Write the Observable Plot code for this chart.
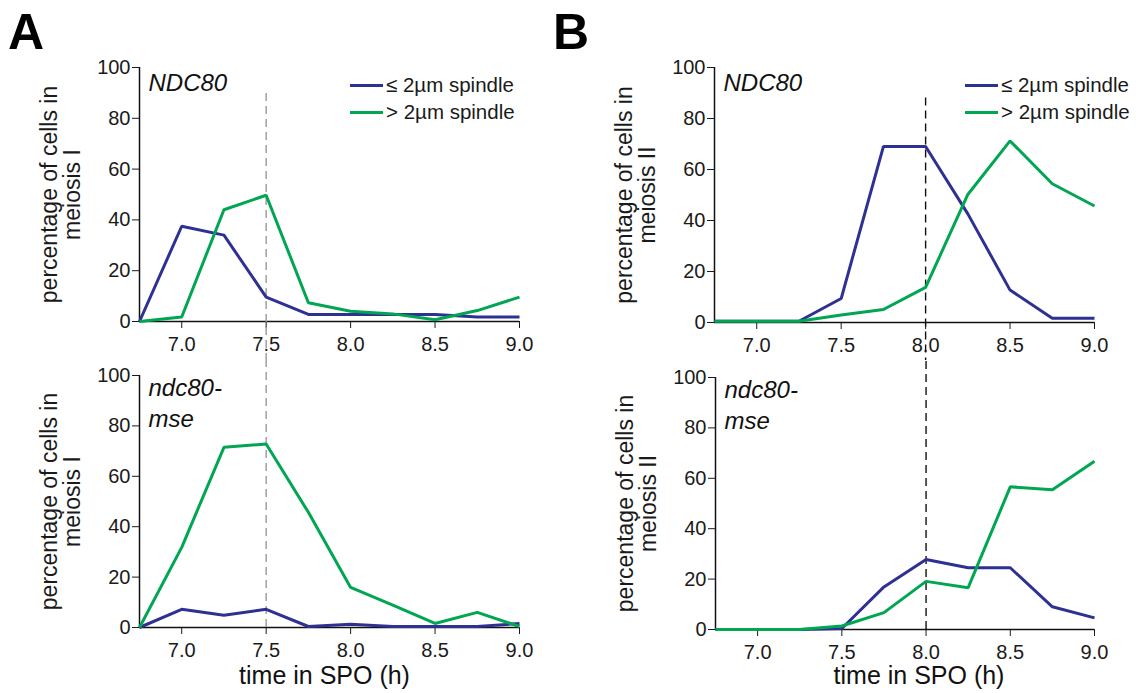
<!DOCTYPE html>
<html><head><meta charset="utf-8">
<script src="https://cdn.jsdelivr.net/npm/d3@7"></script>
<script src="https://cdn.jsdelivr.net/npm/@observablehq/plot@0.6"></script>
<style>
body{margin:0;background:#fff;font-family:"Liberation Sans",Arial,Helvetica,sans-serif;}
#fig{position:relative;width:1136px;height:693px;overflow:hidden;background:#fff;}
.panel{position:absolute;}
.letter{position:absolute;font-weight:bold;font-size:50px;line-height:1;color:#000;}
.legend{position:absolute;font-size:20.5px;color:#1a1a1a;}
.legend .item{position:absolute;white-space:nowrap;display:flex;align-items:center;height:24px;}
.legend .sw{display:inline-block;width:33px;height:3px;margin-right:3px;}
</style></head><body><div id="fig"></div>
<script>
// ---- data ----
const times = [6.75, 7.0, 7.25, 7.5, 7.75, 8.0, 8.25, 8.5, 8.75, 9.0];
const seriesNames = ["≤ 2µm spindle", "> 2µm spindle"];
const seriesColors = ["#2e3192", "#00a651"];
const xTicks = [7.0, 7.5, 8.0, 8.5, 9.0];
const yTicks = [0, 20, 40, 60, 80, 100];
const timeDomain = [6.75, 9.0];

// Panel A (meiosis I)
const aTopShort = [0, 37.5, 34, 9.6, 2.8, 2.8, 2.8, 2.8, 1.8, 1.8];
const aTopLong  = [0, 1.8, 44, 49.7, 7.4, 4, 3, 0.7, 4.3, 9.6];
const aBotShort = [0, 7.2, 4.9, 7.2, 0.4, 1.3, 0.4, 0.4, 0.4, 1.6];
const aBotLong  = [0, 31.8, 71.5, 72.8, 45.7, 15.9, 8.9, 1.6, 6, 0.4];
// Panel B (meiosis II)
const bTopShort = [0.5, 0.5, 0.5, 9.4, 69, 69, 42.6, 12.7, 1.7, 1.7];
const bTopLong  = [0.5, 0.5, 0.5, 2.9, 5.1, 13.8, 50.2, 71.2, 54.4, 45.7];
const bBotShort = [0, 0, 0, 0.4, 16.9, 27.8, 24.5, 24.5, 9, 4.6];
const bBotLong  = [0, 0, 0, 1.4, 6.7, 19.1, 16.6, 56.6, 55.5, 66.8];

const markerA = 7.5;
const markerB = 8.0;
const titleTop = "NDC80";
const titleBot = "ndc80-\nmse";
const yLabelA = "percentage of cells in\nmeiosis I";
const yLabelB = "percentage of cells in\nmeiosis II";
const xLabel = "time in SPO (h)";

// ---- drawing ----
const fig = document.getElementById("fig");

function rows(short, long) {
  return [
    ...times.map((t, i) => ({t, v: short[i], s: seriesNames[0]})),
    ...times.map((t, i) => ({t, v: long[i], s: seriesNames[1]}))
  ];
}

function panel(o) {
  const marks = [
    Plot.ruleY([0], {stroke: "#111", strokeWidth: 1.5}),
    Plot.ruleX([timeDomain[0]], {y1: 0, y2: 100, stroke: "#111", strokeWidth: 1.5}),
    Plot.ruleX([o.marker], {y1: o.ext[0], y2: o.ext[1], stroke: o.markerColor, strokeWidth: 1.4, strokeDasharray: "8,5"}),
    Plot.line(rows(o.short, o.long), {x: "t", y: "v", stroke: "s", z: "s", strokeWidth: 3, strokeLinejoin: "miter", strokeLinecap: "butt"}),
    Plot.text([o.title], {frameAnchor: "top-left", textAnchor: "start", lineAnchor: "top", dx: 9, dy: o.titleDy, fontSize: 24, fontStyle: "italic", fill: "#111", lineHeight: 1.3}),
    Plot.text([o.ylab], {frameAnchor: "left", textAnchor: "middle", lineAnchor: "middle", rotate: -90, dx: -78, fontSize: 23, fill: "#1a1a1a", lineHeight: 1.0})
  ];
  if (o.bottom) {
    marks.push(Plot.text([xLabel], {frameAnchor: "bottom", dx: o.xlabDx, dy: o.xlabDy, fontSize: 25, fill: "#111"}));
  }
  const chart = Plot.plot({
    width: 568,
    height: o.height,
    marginLeft: o.ml, marginRight: o.mr, marginTop: o.mt, marginBottom: o.mb,
    style: {fontSize: "20px", fontFamily: "Liberation Sans, Arial, sans-serif", color: "#1a1a1a", background: "transparent"},
    x: {domain: timeDomain, ticks: xTicks, tickFormat: ".1f", tickSize: 7, tickPadding: 8, label: null},
    y: {domain: [0, 100], ticks: yTicks, tickSize: 7, tickPadding: 2, label: null},
    color: {domain: seriesNames, range: seriesColors},
    marks
  });
  chart.classList.add("panel");
  chart.style.left = o.left + "px";
  chart.style.top = o.top + "px";
  fig.appendChild(chart);
}

panel({short: aTopShort, long: aTopLong, marker: markerA, markerColor: "#999", ext: [89.8, -16], title: titleTop, titleDy: 1, ylab: yLabelA,
  left: 0, top: 0, height: 360, ml: 139, mr: 49, mt: 67, mb: 39});
panel({short: aBotShort, long: aBotLong, marker: markerA, markerColor: "#999", ext: [0, 107], title: titleBot, titleDy: -2, ylab: yLabelA, bottom: true, xlabDx: -5, xlabDy: 56,
  left: 0, top: 360, height: 333, ml: 139, mr: 49, mt: 15, mb: 66});
panel({short: bTopShort, long: bTopLong, marker: markerB, markerColor: "#111", ext: [88, -16], title: titleTop, titleDy: 1, ylab: yLabelB,
  left: 568, top: 0, height: 360, ml: 146, mr: 42, mt: 67, mb: 38});
panel({short: bBotShort, long: bBotLong, marker: markerB, markerColor: "#111", ext: [0, 108], title: titleBot, titleDy: -2, ylab: yLabelB, bottom: true, xlabDx: 14, xlabDy: 54,
  left: 568, top: 360, height: 333, ml: 147, mr: 42, mt: 17, mb: 64});

// panel letters
[["A", 8, 7], ["B", 553, 7]].forEach(([t, x, y]) => {
  const d = document.createElement("div");
  d.className = "letter"; d.textContent = t;
  d.style.left = x + "px"; d.style.top = y + "px";
  fig.appendChild(d);
});

// legends
[[350, 73], [965, 73]].forEach(([x, y]) => {
  const lg = document.createElement("div");
  lg.className = "legend";
  lg.style.left = x + "px"; lg.style.top = y + "px";
  seriesNames.forEach((name, i) => {
    const it = document.createElement("div");
    it.className = "item";
    it.style.top = (i * 27) + "px";
    it.innerHTML = `<span class="sw" style="background:${seriesColors[i]}"></span><span>${name}</span>`;
    lg.appendChild(it);
  });
  fig.appendChild(lg);
});
</script></body></html>
